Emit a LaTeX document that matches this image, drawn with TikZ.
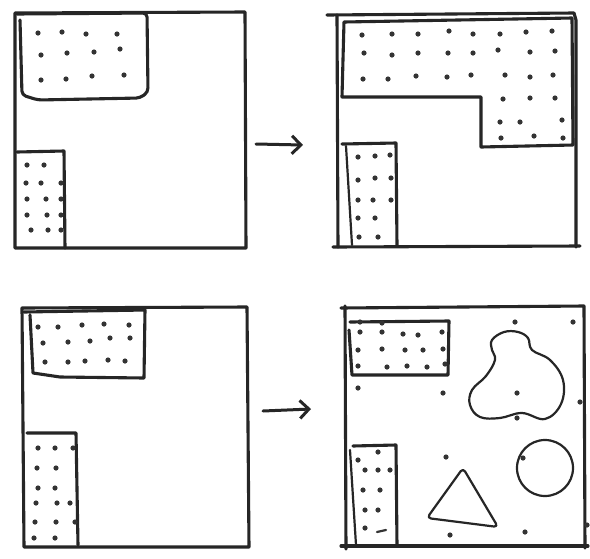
\documentclass[tikz,border=0pt]{standalone}
\usetikzlibrary{arrows.meta}
\tikzset{
  sk/.style={line width=3.1pt, draw=black!85, line join=round, line cap=round},
  thin sk/.style={line width=2.2pt, draw=black!85, line join=round, line cap=round},
  arr/.style={line width=3pt, draw=black!85, line cap=round, -{Straight Barb[length=9pt,width=18pt,line width=3pt]}},
  dotc/.style={fill=black!80, draw=none}
}
\newcommand{\dt}[2]{\fill[dotc] (#1,#2) circle (2.6);}
\begin{document}
\begin{tikzpicture}[x=1pt,y=-1pt]
\useasboundingbox (0,0) rectangle (590,558);
\fill[white] (0,0) rectangle (590,558);

% ---------- Panel 1 ----------
\draw[sk] (15,13) -- (245,12) -- (246,248) -- (15,248) -- cycle;
\draw[sk, rounded corners=4pt] (17,14) -- (147,13) -- (148,92) -- (140,98) -- (38,100) -- (22,95) -- (20,20);
\draw[sk] (17,152) -- (64,151) -- (65,248);
\foreach \x/\y in {38/33,62/32,86/34,117/34, 41/55,67/53,94/52,120/49, 41/80,66/79,92/76,124/75}{\dt{\x}{\y}}
\foreach \x/\y in {27/165,44/165, 26/183,41/183,61/183, 27/199,46/199,61/199, 27/215,47/215,61/215, 31/230,48/230,61/230}{\dt{\x}{\y}}

% arrow 1
\draw[arr] (256,144) -- (303,145);

% ---------- Panel 2 ----------
\draw[sk] (327,15) -- (574,13) -- (576,20) -- (576,247);
\draw[sk] (337,15) -- (338,247);
\draw[sk] (333,247) -- (580,246);
\draw[sk] (344,22) -- (572,18) -- (573,145) -- (481,147) -- (481,97) -- (342,97) -- cycle;
\draw[sk] (342,144) -- (396,143) -- (397,245);
\draw[thin sk] (346,146) -- (352,245);
\foreach \x/\y in {362/35,392/34,418/34,449/31,473/34,500/34,526/32,552/31,
                   364/53,392/55,418/53,448/53,473/53,498/50,530/52,555/51,
                   363/79,388/79,416/76,447/77,471/75,505/75,530/77,553/75,
                   503/99,530/98,555/98, 500/122,520/122,562/120, 501/138,534/136,563/138}{\dt{\x}{\y}}
\foreach \x/\y in {358/157,375/156,390/155, 358/180,375/178,391/178, 358/200,373/200,391/200, 358/218,375/218, 359/237,378/237}{\dt{\x}{\y}}

% ---------- Panel 3 ----------
\draw[sk] (22,308) -- (247,307) -- (249,547) -- (24,547) -- cycle;
\draw[sk] (24,312) -- (145,310) -- (144,378) -- (60,377) -- (33,373) -- (30,315);
\draw[sk] (27,433) -- (76,433) -- (78,545);
\foreach \x/\y in {38/327,58/327,82/325,104/324,129/325, 43/343,68/342,90/341,110/338,130/338, 45/362,68/362,85/361,108/360,125/361}{\dt{\x}{\y}}
\foreach \x/\y in {38/448,55/448,73/448, 37/468,56/468, 38/488,55/488, 36/503,57/503,70/503, 35/522,56/522,75/522, 34/538,55/538}{\dt{\x}{\y}}

% arrow 2
\draw[arr] (263,411) -- (311,409);

% ---------- Panel 4 ----------
\draw[sk] (341,308) -- (584,306) -- (585,548);
\draw[sk] (345,306) -- (346,549);
\draw[sk] (341,546) -- (588,546);
\draw[sk] (350,322) -- (449,321) -- (448,375) -- (352,375) -- (349,330);
\draw[sk] (353,446) -- (396,445) -- (397,545);
\draw[thin sk] (350,450) -- (356,545);
\foreach \x/\y in {360/322,382/323, 360/332,382/332,403/334,418/335,442/332,
                   358/350,382/349,405/350,423/350,443/349,
                   358/366,387/367,407/366,427/367,445/364}{\dt{\x}{\y}}
\foreach \x/\y in {358/460,378/452, 365/470,378/470,390/470, 363/490,380/490, 365/510,378/510, 365/528}{\dt{\x}{\y}}
\draw[line width=2.2pt, black!80, line cap=round] (377,532) -- (386,530);
% free dots
\foreach \x/\y in {515/322,573/322,358/388,443/393,517/393,517/418,580/402,446/457,523/458,450/535,525/532,587/525}{\dt{\x}{\y}}
% blob
\draw[thin sk] plot[smooth cycle, tension=0.65] coordinates {
 (492,340) (504,332) (518,332) (528,338) (532,350) (550,360) (563,380) (561,404)
 (545,419) (522,413) (500,418) (480,417) (470,405) (472,390) (486,376) (495,360) (492,350)};
% circle
\draw[thin sk] (545,468) circle (28);
% triangle
\draw[thin sk, rounded corners=4pt] (463,468) -- (498,527) -- (427,518) -- cycle;
\end{tikzpicture}
\end{document}
